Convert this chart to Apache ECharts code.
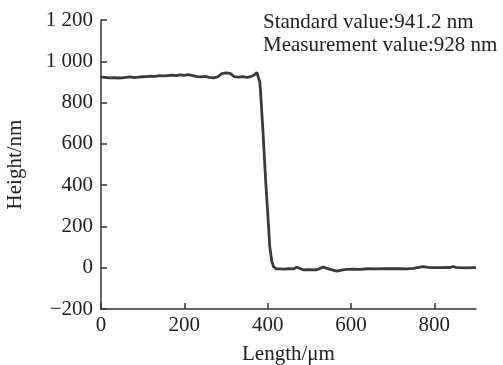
<!DOCTYPE html>
<html>
<head>
<meta charset="utf-8">
<script src="https://cdn.jsdelivr.net/npm/echarts@6/dist/echarts.min.js"></script>
<style>html,body{margin:0;padding:0;background:#fff}#c{width:503px;height:365px}</style>
</head>
<body>
<div id="c"></div>
<script>
var lengthUm = [0,10,20,30,40,50,60,70,80,90,100,110,120,130,140,150,160,170,180,190,200,210,220,230,240,250,260,270,280,290,300,310,320,330,340,350,360,368,374,377,381,383,389,395,400,405,410,414,420,430,440,450,461,470,485,500,518,533,550,566,580,590,605,622,638,660,680,700,718,734,750,773,785,797,815,838,845,852,862,875,893,900];
var heightNm = [923,922,920,921,919,920,922,924,921,923,925,926,928,927,930,929,931,933,930,934,932,935,931,926,924,927,922,920,925,940,944,941,926,923,926,922,926,934,946,944,900,850,650,427,270,102,30,5,-5,-6,-7,-4,-6,2,-10,-9,-10,3,-8,-17,-10,-8,-7,-8,-5,-6,-4,-5,-5,-6,-3,5,2,0,0,1,6,2,0,-1,0,0];
var yTicks = {min:-200, max:1200, interval:200};
var xTicks = {min:0, max:900, interval:200};
var annotation = ['Standard value:941.2 nm','Measurement value:928 nm'];

var font = 'Liberation Serif';
var chart = echarts.init(document.getElementById('c'));
var data = lengthUm.map(function(x,i){return [x, heightNm[i]];});
function fmt(v){
  var s = String(Math.abs(v));
  if (s.length > 3) s = s.slice(0, s.length-3) + ' ' + s.slice(-3);
  return (v < 0 ? '\u2212' : '') + s;
}
chart.setOption({
  animation:false,
  grid:{left:101,right:27,top:20,bottom:56,outerBoundsMode:'none',containLabel:false},
  xAxis:{
    type:'value', min:xTicks.min, max:xTicks.max, interval:xTicks.interval,
    name:'Length/\u03bcm', nameLocation:'middle', nameGap:35,
    nameTextStyle:{fontFamily:font,fontSize:21,color:'#222'},
    axisLine:{onZero:false,lineStyle:{color:'#333',width:1.5}},
    axisTick:{inside:true,length:6,lineStyle:{color:'#333',width:1.5}},
    axisLabel:{fontFamily:font,fontSize:21,color:'#222',margin:6,showMaxLabel:false,formatter:fmt},
    splitLine:{show:false}
  },
  yAxis:{
    type:'value', min:yTicks.min, max:yTicks.max, interval:yTicks.interval,
    name:'Height/nm', nameLocation:'middle', nameGap:75,
    nameTextStyle:{fontFamily:font,fontSize:21,color:'#222'},
    axisLine:{show:true,onZero:false,lineStyle:{color:'#333',width:1.5}},
    axisTick:{show:true,inside:true,length:6,lineStyle:{color:'#333',width:1.5}},
    axisLabel:{fontFamily:font,fontSize:21,color:'#222',margin:8,formatter:fmt},
    splitLine:{show:false}
  },
  graphic:[{
    type:'text', left:263, top:11,
    style:{text:annotation.join('\n'), font:'21px "Liberation Serif"', fill:'#222', lineHeight:23}
  }],
  series:[{
    type:'line', data:data, showSymbol:false, smooth:false,
    lineStyle:{color:'#3a3a3a',width:2.8}
  }]
});
</script>
</body>
</html>
